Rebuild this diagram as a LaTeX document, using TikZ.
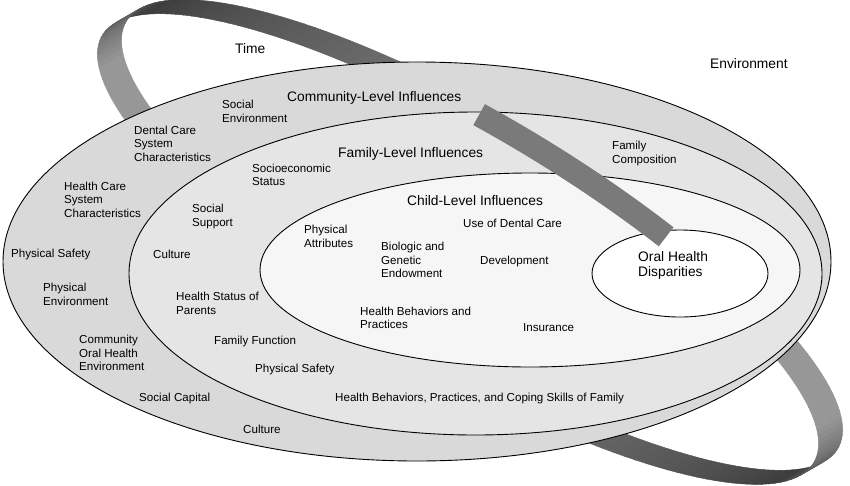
\documentclass[tikz,border=0pt]{standalone}
\usepackage{fontspec}
\setmainfont{Liberation Sans}
\definecolor{commgray}{RGB}{217,217,217}
\definecolor{famgray}{RGB}{229,229,229}
\definecolor{childgray}{RGB}{246,246,246}
\definecolor{bargray}{RGB}{122,122,122}
\begin{document}
\begin{tikzpicture}[x=1pt, y=-1pt,
	label_node/.style={anchor=west, align=left, inner sep=0pt, font=\fontsize{11.6}{13.5}\selectfont},
	title_node/.style={anchor=west, align=left, inner sep=0pt, font=\fontsize{13.8}{15.5}\selectfont},
	ring_line/.style={draw=black, line width=0.9pt}]
				
				\useasboundingbox (0,0) rectangle (850,485);
				
				% time band, back part (two loops, shaded along the band)
				\foreach \s in {0,180}{
					\foreach \t in {105,107,...,223}{
						\pgfmathsetmacro\p{\t<=160 ? 60+(160-\t) : 60+2.6*min(\t-160,35)}
						\pgfmathsetmacro\p{100*(1-\p/255)}
						\pgfmathsetmacro\ta{\t+\s}
						\pgfmathsetmacro\tb{\t+\s+2}
						\pgfmathsetmacro\xa{470+355.7*cos(\ta)+59.2*sin(\ta)}
						\pgfmathsetmacro\ya{242+213.7*cos(\ta)-98.6*sin(\ta)}
						\pgfmathsetmacro\xb{470+355.7*cos(\tb)+59.2*sin(\tb)}
						\pgfmathsetmacro\yb{242+213.7*cos(\tb)-98.6*sin(\tb)}
						\fill[fill=black!\p, draw=black!\p, line width=0.5pt]
						(\xa+12,\ya-7) -- (\xb+12,\yb-7) -- (\xb-12,\yb+7) -- (\xa-12,\ya+7) -- cycle;
					}
				}
				
				% levels
				\draw[ring_line, fill=commgray] (417,261.5) ellipse [x radius=414pt, y radius=199.5pt];
				\draw[ring_line, fill=famgray] (475.5,273.5) ellipse [x radius=346.5pt, y radius=161.5pt];
				\draw[ring_line, fill=childgray] (530,270) ellipse [x radius=270pt, y radius=97pt];
				\draw[ring_line, fill=white] (680,273.5) ellipse [x radius=88pt, y radius=43.5pt];
				
				% time band, front part
				\draw[draw=bargray, line width=24pt] plot[domain=66.5:98, samples=20]
				({470+355.7*cos(\x)+59.2*sin(\x)}, {242+213.7*cos(\x)-98.6*sin(\x)});
				
				\node[title_node] (1) at (235, 49) {Time};
				\node[title_node] (2) at (710, 64) {Environment};
				\node[title_node] (3) at (287, 98) {Community-Level Influences};
				\node[title_node] (4) at (338, 154) {Family-Level Influences};
				\node[title_node] (5) at (407, 201) {Child-Level Influences};
				\node[title_node] (6) at (638, 265.5) {Oral Health\\Disparities};
				
				\node[label_node] (7) at (222, 111.5) {Social\\Environment};
				\node[label_node] (8) at (134, 143.5) {Dental Care\\System\\Characteristics};
				\node[label_node] (9) at (64, 199.5) {Health Care\\System\\Characteristics};
				\node[label_node] (10) at (11, 254) {Physical Safety};
				\node[label_node] (11) at (43, 294.5) {Physical\\Environment};
				\node[label_node] (12) at (79, 353) {Community\\Oral Health\\Environment};
				\node[label_node] (13) at (139, 398) {Social Capital};
				\node[label_node] (14) at (243, 429) {Culture};
				
				\node[label_node] (15) at (612, 153.5) {Family\\Composition};
				\node[label_node] (16) at (252, 175) {Socioeconomic\\Status};
				\node[label_node] (17) at (192, 216.5) {Social\\Support};
				\node[label_node] (18) at (153, 254) {Culture};
				\node[label_node] (19) at (176, 303.5) {Health Status of\\Parents};
				\node[label_node] (20) at (214, 341) {Family Function};
				\node[label_node] (21) at (255, 369) {Physical Safety};
				\node[label_node] (22) at (335, 398) {Health Behaviors, Practices, and Coping Skills of Family};
				
				\node[label_node] (23) at (463, 223) {Use of Dental Care};
				\node[label_node] (24) at (304, 236.5) {Physical\\Attributes};
				\node[label_node] (25) at (381, 260) {Biologic and\\Genetic\\Endowment};
				\node[label_node] (26) at (480, 261) {Development};
				\node[label_node] (27) at (360, 318) {Health Behaviors and\\Practices};
				\node[label_node] (28) at (523, 328) {Insurance};
			\end{tikzpicture}
\end{document}
